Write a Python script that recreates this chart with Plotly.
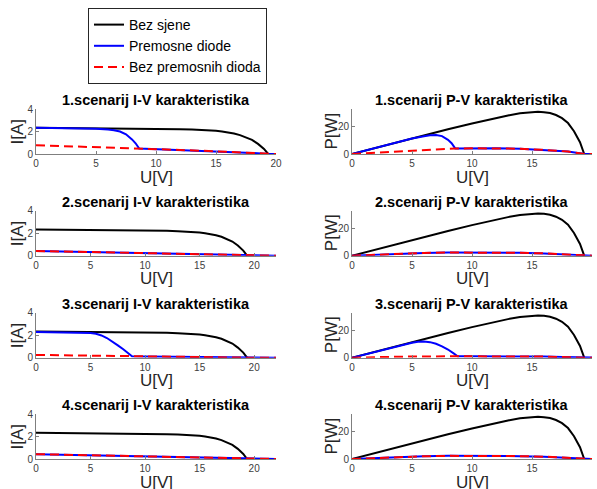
import plotly.graph_objects as go

# ---------------- data ----------------
# Bez sjene (no shading) – same in all scenarios
V_bez = [0, 2, 4, 6, 8, 10, 12, 13, 14, 15, 15.5, 16, 16.5, 17, 17.5, 18, 18.5, 19, 19.35]
I_bez = [2.33, 2.32, 2.30, 2.28, 2.26, 2.24, 2.21, 2.18, 2.14, 2.06, 2.0, 1.92, 1.82, 1.68, 1.5, 1.26, 0.9, 0.45, 0.0]
P_bez = [0, 4.6, 9.2, 13.7, 18.1, 22.4, 26.5, 28.3, 29.9, 30.8, 31.0, 30.7, 30.0, 28.6, 26.3, 22.7, 16.7, 8.6, 0]

# Scenario 1
V1_pd = [0, 2, 4, 5, 6, 6.5, 7, 7.5, 8, 8.3, 8.6, 10, 12, 14, 16, 18, 19.4, 20]
I1_pd = [2.33, 2.31, 2.28, 2.25, 2.17, 2.12, 2.0, 1.75, 1.3, 0.95, 0.48, 0.43, 0.36, 0.28, 0.19, 0.1, 0, 0]
P1_pd = [0, 4.6, 9.1, 11.3, 13.0, 13.8, 14.0, 13.1, 10.4, 7.9, 4.1, 4.3, 4.3, 3.9, 3.0, 1.8, 0, 0]
V1_bp = [0, 2, 4, 6, 8.6, 10, 12, 14, 16, 18, 19.4, 20]
I1_bp = [0.78, 0.72, 0.66, 0.6, 0.5, 0.43, 0.36, 0.28, 0.19, 0.1, 0, 0]
P1_bp = [0, 1.0, 2.0, 3.2, 4.0, 4.2, 4.2, 3.9, 3.0, 1.8, 0, 0]

# Scenario 2
V2_iv = [0, 5, 10, 15, 19.4, 22]
I2_pd = [0.42, 0.32, 0.22, 0.12, 0, 0]
I2_bp = [0.42, 0.32, 0.22, 0.12, 0, 0]
V2_pv = [0, 2, 4, 6, 8, 10, 12, 14, 16, 18, 19.4, 20]
P2_pd = [0, 0.8, 1.5, 2.0, 2.3, 2.4, 2.3, 2.1, 1.7, 0.9, 0, 0]
P2_bp = [0, 0.8, 1.5, 2.0, 2.3, 2.4, 2.3, 2.1, 1.7, 0.9, 0, 0]

# Scenario 3
V3_pd = [0, 2, 4, 5, 5.5, 6, 6.5, 7, 7.5, 8, 8.5, 8.8, 10, 12, 14, 16, 17.5, 18.5, 19.4, 22]
I3_pd = [2.28, 2.27, 2.24, 2.2, 2.12, 1.98, 1.75, 1.45, 1.1, 0.75, 0.35, 0.12, 0.11, 0.09, 0.07, 0.05, 0.03, 0.01, 0, 0]
P3_pd = [0, 4.5, 9.0, 11.0, 11.7, 11.9, 11.4, 10.2, 8.3, 6.0, 3.0, 1.1, 1.1, 1.1, 1.0, 0.8, 0.5, 0.2, 0, 0]
V3_bp = [0, 4, 8.8, 12, 16, 19.4, 22]
I3_bp = [0.25, 0.19, 0.12, 0.09, 0.05, 0, 0]
P3_bp = [0, 0.75, 1.05, 1.1, 0.8, 0, 0]

# Scenario 4
V4_iv = [0, 5, 10, 15, 19.4, 22]
I4_pd = [0.43, 0.33, 0.22, 0.12, 0, 0]
I4_bp = [0.43, 0.33, 0.22, 0.12, 0, 0]
V4_pv = [0, 2, 4, 6, 8, 10, 12, 14, 16, 18, 19.4, 20]
P4_pd = [0, 0.8, 1.5, 2.0, 2.3, 2.4, 2.3, 2.1, 1.7, 0.9, 0, 0]
P4_bp = [0, 0.8, 1.5, 2.0, 2.3, 2.4, 2.3, 2.1, 1.7, 0.9, 0, 0]

series_names = ["Bez sjene", "Premosne diode", "Bez premosnih dioda"]
iv_titles = ["1.scenarij I-V karakteristika", "2.scenarij I-V karakteristika",
             "3.scenarij I-V karakteristika", "4.scenarij I-V karakteristika"]
pv_titles = ["1.scenarij P-V karakteristika", "2.scenarij P-V karakteristika",
             "3.scenarij P-V karakteristika", "4.scenarij P-V karakteristika"]
iv_xmax = [20, 22, 22, 22]

iv_data = [
    (V1_pd, I1_pd, V1_bp, I1_bp),
    (V2_iv, I2_pd, V2_iv, I2_bp),
    (V3_pd, I3_pd, V3_bp, I3_bp),
    (V4_iv, I4_pd, V4_iv, I4_bp),
]
pv_data = [
    (V1_pd, P1_pd, V1_bp, P1_bp),
    (V2_pv, P2_pd, V2_pv, P2_bp),
    (V3_pd, P3_pd, V3_bp, P3_bp),
    (V4_pv, P4_pd, V4_pv, P4_bp),
]

# ---------------- layout helpers ----------------
W, H = 597, 489
FONT = "Liberation Sans, Arial, sans-serif"
row_tops = [109, 210.7, 312.7, 414]
row_h = 45
left_x = (36, 276)
right_x = (352, 592)

def xd(a, b):
    return [a / W, b / W]

def yd(top, bot):
    return [1 - bot / H, 1 - top / H]

fig = go.Figure()
layout = dict(
    width=W, height=H,
    margin=dict(l=0, r=0, t=0, b=0, autoexpand=False),
    paper_bgcolor="white", plot_bgcolor="white",
    font=dict(family=FONT, color="#262626"),
    showlegend=True,
)
annotations = []

black = dict(color="#000000", width=2)
blue = dict(color="#0000FF", width=2)
red = dict(color="#FF0000", width=2, dash="9px,5px")

def add_axes(idx, xdom, ydom, xmax, yrange, ytickvals):
    xa = "xaxis" if idx == 1 else f"xaxis{idx}"
    ya = "yaxis" if idx == 1 else f"yaxis{idx}"
    common = dict(showgrid=False, zeroline=False, showline=True, linecolor="#7f7f7f",
                  linewidth=1, ticks="inside", ticklen=3, tickcolor="#7f7f7f",
                  tickfont=dict(size=10, color="#404040", family=FONT), mirror=False,
                  automargin=False)
    layout[xa] = dict(domain=xdom, range=[0, xmax], tickvals=[0, 5, 10, 15, 20],
                      anchor=f"y{idx}" if idx > 1 else "y", **common)
    layout[ya] = dict(domain=ydom, range=yrange, tickvals=ytickvals,
                      anchor=f"x{idx}" if idx > 1 else "x", **common)

idx = 0
for r in range(4):
    top = row_tops[r]
    bot = top + row_h
    # I-V
    idx += 1
    add_axes(idx, xd(*left_x), yd(top, bot), iv_xmax[r], [0, 4], [0, 2, 4])
    xr = "x" if idx == 1 else f"x{idx}"
    yr = "y" if idx == 1 else f"y{idx}"
    vpd, ipd, vbp, ibp = iv_data[r]
    fig.add_trace(go.Scatter(x=V_bez, y=I_bez, mode="lines", line=black, xaxis=xr, yaxis=yr,
                             name=series_names[0], showlegend=(r == 0), legendrank=1))
    fig.add_trace(go.Scatter(x=vpd, y=ipd, mode="lines", line=blue, xaxis=xr, yaxis=yr,
                             name=series_names[1], showlegend=(r == 0), legendrank=2))
    fig.add_trace(go.Scatter(x=vbp, y=ibp, mode="lines", line=red, xaxis=xr, yaxis=yr,
                             name=series_names[2], showlegend=(r == 0), legendrank=3))
    cx = (left_x[0] + left_x[1]) / 2
    annotations.append(dict(text=f"<b>{iv_titles[r]}</b>", x=cx / W, y=1 - (top - 9) / H,
                            xref="paper", yref="paper", showarrow=False,
                            xanchor="center", yanchor="middle",
                            font=dict(size=14.5, color="#000000", family=FONT)))
    annotations.append(dict(text="U[V]", x=cx / W, y=1 - (bot + 23) / H,
                            xref="paper", yref="paper", showarrow=False,
                            xanchor="center", yanchor="middle",
                            font=dict(size=17, color="#262626", family=FONT)))
    annotations.append(dict(text="I[A]", x=17 / W, y=1 - (top + row_h / 2) / H,
                            xref="paper", yref="paper", showarrow=False, textangle=-90,
                            xanchor="center", yanchor="middle",
                            font=dict(size=17, color="#262626", family=FONT)))
    # P-V
    idx += 1
    add_axes(idx, xd(*right_x), yd(top, bot), 20, [0, 33], [0, 20])
    xr = f"x{idx}"
    yr = f"y{idx}"
    vpd, ppd, vbp, pbp = pv_data[r]
    fig.add_trace(go.Scatter(x=V_bez, y=P_bez, mode="lines", line=black, xaxis=xr, yaxis=yr,
                             name=series_names[0], showlegend=False))
    fig.add_trace(go.Scatter(x=vpd, y=ppd, mode="lines", line=blue, xaxis=xr, yaxis=yr,
                             name=series_names[1], showlegend=False))
    fig.add_trace(go.Scatter(x=vbp, y=pbp, mode="lines", line=red, xaxis=xr, yaxis=yr,
                             name=series_names[2], showlegend=False))
    cx = (right_x[0] + right_x[1]) / 2
    annotations.append(dict(text=f"<b>{pv_titles[r]}</b>", x=cx / W, y=1 - (top - 9) / H,
                            xref="paper", yref="paper", showarrow=False,
                            xanchor="center", yanchor="middle",
                            font=dict(size=14.5, color="#000000", family=FONT)))
    annotations.append(dict(text="U[V]", x=cx / W, y=1 - (bot + 23) / H,
                            xref="paper", yref="paper", showarrow=False,
                            xanchor="center", yanchor="middle",
                            font=dict(size=17, color="#262626", family=FONT)))
    annotations.append(dict(text="P[W]", x=331 / W, y=1 - (top + row_h / 2) / H,
                            xref="paper", yref="paper", showarrow=False, textangle=-90,
                            xanchor="center", yanchor="middle",
                            font=dict(size=17, color="#262626", family=FONT)))

layout["annotations"] = annotations
layout["legend"] = dict(x=88 / W, y=1 - 8 / H, xanchor="left", yanchor="top",
                        bordercolor="#262626", borderwidth=1, bgcolor="white",
                        font=dict(size=14, color="#000000", family=FONT),
                        itemwidth=30, tracegroupgap=0)
fig.update_layout(**layout)
fig.write_html("out.html", config={"displayModeBar": False},
               post_script="document.body.style.margin='0';document.body.style.padding='0';")
